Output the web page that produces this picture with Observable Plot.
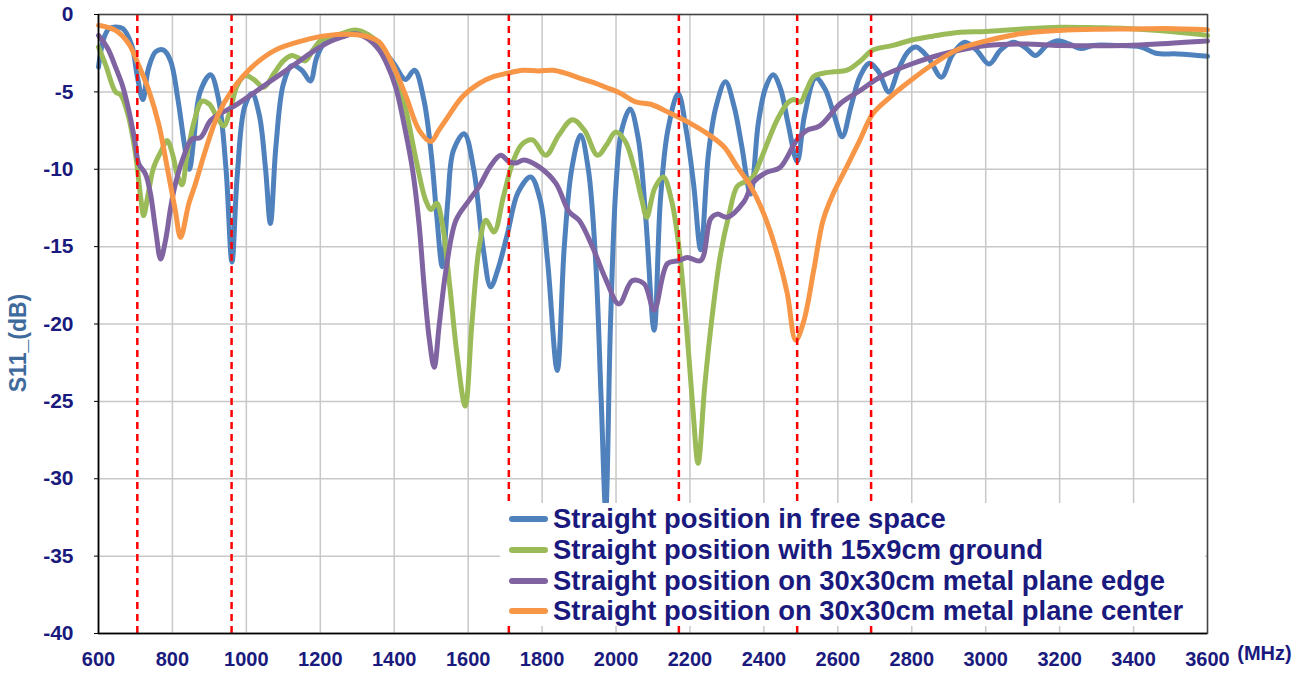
<!DOCTYPE html>
<html><head><meta charset="utf-8">
<script src="https://cdn.jsdelivr.net/npm/d3@7"></script>
<script src="https://cdn.jsdelivr.net/npm/@observablehq/plot@0.6"></script>
<style>
body{margin:0;background:#fff;}
#wrap{position:relative;width:1299px;height:675px;}
.legend{position:absolute;left:500px;top:503px;width:705px;height:123px;background:#fff;font-family:"Liberation Sans",Arial,sans-serif;font-weight:bold;font-size:27.4px;color:#1a1a7e;}
.row{position:absolute;left:0;height:30px;display:flex;align-items:center;white-space:nowrap;}
.sw{width:39px;height:6px;border-radius:3px;margin-left:9px;margin-right:5px;}
</style></head>
<body>
<div id="wrap"></div>
<script>
// Frequencies (MHz) and S11 (dB) per series
const freeSpaceMHz = [600,615,630,665,690,705,720,735,755,776,795,815,835,846,858,875,903,925,945,961,975,995,1015,1035,1052,1065,1080,1100,1123,1150,1173,1190,1213,1260,1310,1340,1370,1400,1430,1455,1480,1500,1515,1530,1545,1560,1589,1615,1640,1661,1680,1706,1735,1769,1795,1815,1841,1860,1880,1904,1925,1945,1960,1972,1985,2000,2015,2038,2060,2080,2103,2120,2140,2168,2190,2210,2229,2250,2270,2296,2320,2340,2364,2385,2405,2425,2445,2465,2490,2510,2540,2565,2590,2612,2635,2660,2686,2710,2738,2765,2790,2812,2845,2880,2910,2943,2975,3009,3040,3074,3105,3135,3165,3195,3230,3258,3290,3350,3420,3460,3520,3600];
const freeSpaceDB = [-3.4,-1.5,-0.9,-0.9,-2.0,-4.0,-5.5,-3.5,-2.4,-2.3,-3.0,-5.5,-8.8,-10.0,-8.0,-5.0,-3.9,-5.5,-10,-16.0,-10.5,-6.0,-5.1,-6.5,-10.0,-13.5,-8.5,-4.5,-3.3,-3.6,-4.3,-2.8,-1.8,-1.4,-1.2,-1.5,-2.3,-3.2,-4.2,-3.6,-5.5,-9,-13,-16.3,-12,-8.8,-7.7,-10,-15,-17.6,-16.5,-14.2,-11.5,-10.5,-12,-16,-23.0,-15,-10,-7.8,-10,-16,-25,-32,-20,-11,-7.5,-6.1,-8,-13,-20.4,-12,-7.5,-5.1,-7.5,-11,-15.2,-9,-6,-4.35,-6,-8.5,-11.6,-7,-4.7,-3.9,-4.8,-7,-9.5,-6.5,-4.1,-4.8,-6.5,-7.9,-6,-4,-3.15,-3.7,-5.0,-3.5,-2.4,-2.1,-2.8,-4.05,-2.6,-1.8,-2.3,-3.2,-2.3,-1.8,-2.1,-2.65,-2.0,-1.7,-1.95,-2.2,-2.0,-2.0,-2.1,-2.5,-2.55,-2.7];

const groundMHz = [600,620,646,660,680,700,715,722,735,749,770,786,800,815,826,840,860,880,900,920,939,955,975,997,1020,1047,1075,1100,1123,1140,1159,1180,1200,1250,1295,1330,1359,1400,1430,1460,1485,1500,1515,1530,1550,1570,1592,1610,1630,1648,1670,1695,1720,1745,1774,1810,1845,1882,1915,1950,1975,1999,2025,2050,2070,2083,2105,2128,2150,2170,2190,2208,2222,2240,2260,2283,2305,2328,2350,2370,2391,2436,2465,2481,2499,2515,2535,2560,2589,2625,2661,2695,2749,2800,2857,2930,3001,3091,3200,3300,3380,3500,3600];
const groundDB = [-2.1,-3.3,-5.0,-5.2,-6.5,-9,-12,-13.0,-11.5,-9.9,-8.8,-8.15,-9,-10.5,-11.0,-9,-6.8,-5.6,-5.8,-6.6,-7.2,-6.3,-4.6,-3.95,-4.2,-4.7,-3.8,-3.0,-2.65,-2.8,-3.0,-2.3,-1.7,-1.3,-1.0,-1.3,-1.9,-3.5,-6.0,-9.5,-12.0,-12.6,-12.2,-13.5,-17.5,-22,-25.3,-20,-15,-13.3,-14.05,-11.8,-9.6,-8.4,-8.1,-9.1,-7.8,-6.8,-7.5,-9.1,-8.4,-7.6,-8.2,-10,-12,-13.1,-11.2,-10.5,-12,-15,-20,-25.5,-29.0,-24,-19.5,-15.45,-13,-11.1,-10.8,-10.5,-9.4,-6.8,-5.7,-5.5,-5.65,-4.9,-4.0,-3.8,-3.7,-3.6,-3.0,-2.3,-2.0,-1.65,-1.4,-1.15,-1.1,-0.95,-0.82,-0.85,-0.9,-1.1,-1.35];

const edgeMHz = [600,625,646,665,682,697,709,727,740,755,768,782,795,808,830,853,876,903,930,961,1000,1042,1090,1132,1180,1222,1260,1295,1330,1359,1380,1404,1430,1450,1467,1481,1495,1508,1522,1540,1567,1603,1630,1660,1688,1710,1729,1751,1792,1837,1873,1900,1936,1972,2008,2044,2076,2103,2139,2170,2193,2229,2256,2274,2301,2346,2371,2407,2443,2488,2515,2551,2607,2661,2714,2799,2885,3002,3110,3200,3380,3500,3600];
const edgeDB = [-1.35,-2.2,-3.4,-4.6,-6.2,-8.0,-9.65,-10.3,-11.5,-14,-15.8,-14.5,-12.5,-10.95,-9.2,-8.05,-7.95,-6.85,-6.4,-6.0,-5.4,-4.7,-3.9,-3.2,-2.4,-1.8,-1.45,-1.25,-1.6,-2.3,-3.2,-4.7,-7.5,-10.1,-13.5,-17.6,-21,-22.8,-20,-16.5,-13.3,-12.0,-11.1,-9.8,-9.1,-9.5,-9.6,-9.4,-9.85,-10.9,-12.75,-13.3,-15.0,-17.1,-18.7,-17.2,-17.4,-19.1,-16.1,-15.9,-15.7,-15.9,-13.2,-12.9,-13.1,-12.1,-10.85,-10.2,-9.9,-8.15,-7.5,-7.2,-5.75,-4.9,-4.05,-3.2,-2.55,-2.0,-1.9,-2.0,-2.0,-1.85,-1.72];

const centerMHz = [600,646,682,709,736,763,786,808,822,844,862,889,921,961,1015,1078,1151,1222,1290,1330,1359,1395,1432,1468,1499,1520,1540,1585,1630,1670,1706,1747,1790,1828,1865,1900,1940,1972,2013,2053,2094,2148,2202,2247,2292,2328,2364,2400,2436,2463,2486,2508,2535,2560,2587,2623,2659,2695,2741,2795,2858,2930,3002,3092,3200,3300,3398,3488,3600];
const centerDB = [-0.7,-1.03,-1.9,-3.3,-4.9,-7.1,-9.9,-12.7,-14.4,-12.25,-10.95,-8.8,-6.6,-4.9,-3.4,-2.3,-1.7,-1.35,-1.3,-1.45,-1.77,-3.2,-5.3,-7.5,-8.2,-7.5,-6.8,-5.3,-4.45,-4.0,-3.8,-3.6,-3.65,-3.6,-3.8,-4.1,-4.4,-4.7,-5.1,-5.65,-5.8,-6.4,-7.05,-7.7,-8.55,-9.85,-11.1,-12.9,-15.45,-18.0,-21.05,-19.8,-16.5,-13.3,-11.6,-9.9,-8.15,-6.4,-5.35,-4.3,-3.2,-2.2,-1.7,-1.25,-1.03,-0.95,-0.93,-0.9,-0.99];

const seriesNames = ["Straight position in free space","Straight position with 15x9cm ground","Straight position on 30x30cm metal plane edge","Straight position on 30x30cm metal plane center"];
const seriesColors = ["#4f81bd","#9bbb59","#8064a2","#f79646"];
const bandEdgesMHz = [705,960,1710,2170,2490,2690];
const xTicks = [600,800,1000,1200,1400,1600,1800,2000,2200,2400,2600,2800,3000,3200,3400,3600];
const yTicks = [0,-5,-10,-15,-20,-25,-30,-35,-40];

const seriesData = [[freeSpaceMHz,freeSpaceDB],[groundMHz,groundDB],[edgeMHz,edgeDB],[centerMHz,centerDB]];
const rows = seriesData.flatMap(([fs, ds], k) => fs.map((f, i) => ({series: seriesNames[k], f, db: ds[i]})));

const navy = "#1a1a7e";
const chart = Plot.plot({
  width: 1299, height: 675,
  marginLeft: 98, marginRight: 92, marginTop: 14, marginBottom: 42,
  x: {domain: [600, 3600]},
  y: {domain: [-40, 0]},
  color: {domain: seriesNames, range: seriesColors},
  style: {fontFamily: "'Liberation Sans',Arial,sans-serif", fontWeight: "bold", background: "#fff", overflow: "visible"},
  marks: [
    Plot.gridX(xTicks, {stroke: "#c8c8c8", strokeOpacity: 1, strokeWidth: 1.5}),
    Plot.gridY(yTicks, {stroke: "#c8c8c8", strokeOpacity: 1, strokeWidth: 1.5}),
    Plot.line(rows, {x: "f", y: "db", z: "series", stroke: "series", strokeWidth: 5, curve: "catmull-rom", strokeLinejoin: "round"}),
    Plot.ruleX(bandEdgesMHz, {stroke: "#ff0000", strokeWidth: 2.5, strokeDasharray: "7,5"}),
    Plot.frame({stroke: "#444", strokeWidth: 1.5}),
    Plot.ruleX([600], {stroke: "#000", strokeWidth: 1.5}),
    Plot.ruleY([-40], {stroke: "#000", strokeWidth: 1.5}),
    Plot.axisY(yTicks, {tickFormat: d => String(d), tickSize: 4, tickPadding: 21, fontSize: 21, fill: navy, stroke: "#000", label: null}),
    Plot.axisX(xTicks, {tickFormat: d => String(d), tickSize: 0, tickPadding: 18, fontSize: 20, fill: navy, label: null}),
    Plot.text(["(MHz)"], {frameAnchor: "bottom-right", textAnchor: "middle", dx: 57, dy: 26, fontSize: 20, fill: navy}),
    Plot.text(["S11_(dB)"], {frameAnchor: "left", textAnchor: "middle", rotate: -90, dx: -80, dy: 19, fontSize: 23, fill: "#3f6a9c"})
  ]
});
const wrap = document.getElementById("wrap");
wrap.appendChild(chart);

const legend = document.createElement("div");
legend.className = "legend";
const rowCenters = [16, 47, 78, 108];
seriesNames.forEach((name, i) => {
  const r = document.createElement("div");
  r.className = "row";
  r.style.top = (rowCenters[i] - 15) + "px";
  const sw = document.createElement("span");
  sw.className = "sw";
  sw.style.background = seriesColors[i];
  const t = document.createElement("span");
  t.textContent = name;
  r.appendChild(sw); r.appendChild(t);
  legend.appendChild(r);
});
wrap.appendChild(legend);
</script>
</body></html>
